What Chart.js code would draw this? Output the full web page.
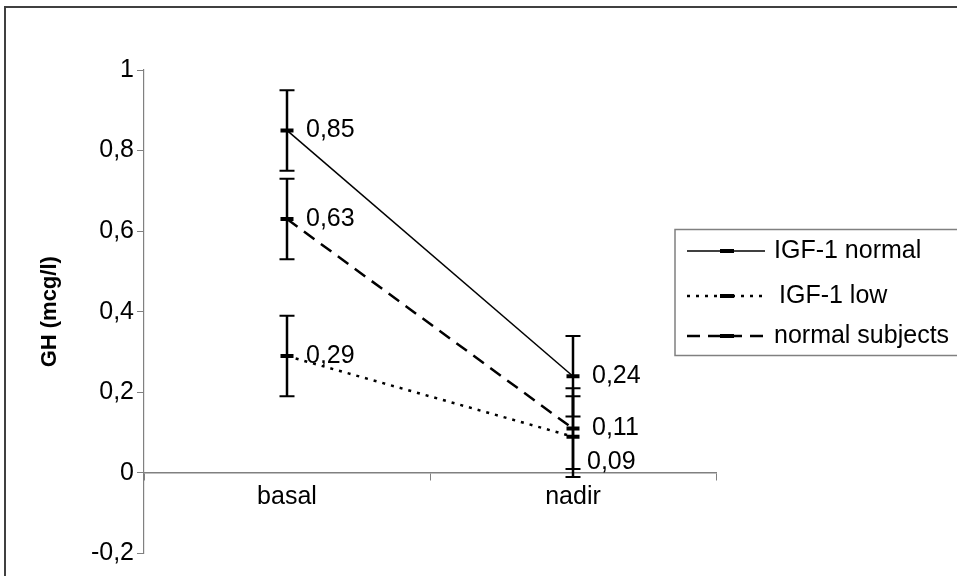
<!DOCTYPE html>
<html lang="en">

<head>
  <meta charset="UTF-8">
  <title>GH basal / nadir</title>
  <style>
    html, body { margin: 0; padding: 0; background: #fff; overflow: hidden; }
  </style>
</head>

<body>
  <canvas id="myChart" width="957" height="576"></canvas>

  <script src="https://cdn.jsdelivr.net/npm/chart.js"></script>

  <script>
    const categories = ['basal', 'nadir'];
    const igfNormal = [0.85, 0.24];
    const igfLow = [0.29, 0.09];
    const normalSubjects = [0.63, 0.11];
    const errNormal = [0.1, 0.1];
    const errLow = [0.1, 0.1];
    const errSubjects = [0.1, 0.1];
    const yTicks = [-0.2, 0, 0.2, 0.4, 0.6, 0.8, 1];

    const FONT = "'Liberation Sans', Arial, sans-serif";
    const TEXT_SIZE = 25;
    const comma = v => String(v).replace('.', ',');

    Chart.defaults.font.family = FONT;
    Chart.defaults.font.size = TEXT_SIZE;
    Chart.defaults.color = '#000';

    // outer frame of the exported picture
    const frame = {
      id: 'frame',
      beforeDraw(chart) {
        const ctx = chart.ctx;
        ctx.save();
        ctx.strokeStyle = '#404040';
        ctx.lineWidth = 2;
        ctx.beginPath();
        ctx.moveTo(5, 600);
        ctx.lineTo(5, 7);
        ctx.lineTo(chart.width + 5, 7);
        ctx.stroke();
        ctx.restore();
      }
    };

    const errorBars = {
      id: 'errorBars',
      afterDatasetsDraw(chart) {
        const ctx = chart.ctx;
        const y = chart.scales.y;
        ctx.save();
        ctx.strokeStyle = '#000';
        chart.data.datasets.forEach((ds, i) => {
          chart.getDatasetMeta(i).data.forEach((pt, j) => {
            const top = y.getPixelForValue(ds.data[j] + ds.errors[j]);
            const bot = y.getPixelForValue(ds.data[j] - ds.errors[j]);
            ctx.lineWidth = 2.5;
            ctx.beginPath();
            ctx.moveTo(pt.x, top); ctx.lineTo(pt.x, bot);
            ctx.stroke();
            ctx.lineWidth = 2;
            ctx.beginPath();
            ctx.moveTo(pt.x - 7.5, top); ctx.lineTo(pt.x + 7.5, top);
            ctx.moveTo(pt.x - 7.5, bot); ctx.lineTo(pt.x + 7.5, bot);
            ctx.stroke();
          });
        });
        ctx.restore();
      }
    };

    const valueLabels = {
      id: 'valueLabels',
      afterDatasetsDraw(chart, args, opts) {
        const ctx = chart.ctx;
        ctx.save();
        ctx.font = TEXT_SIZE + 'px ' + FONT;
        ctx.fillStyle = '#000';
        ctx.textAlign = 'left';
        ctx.textBaseline = 'middle';
        chart.data.datasets.forEach((ds, i) => {
          const shift = opts.shift[ds.label] || [];
          chart.getDatasetMeta(i).data.forEach((pt, j) => {
            const s = shift[j] || [0, 0];
            ctx.fillText(comma(ds.data[j]), pt.x + 19 + s[0], pt.y + s[1]);
          });
        });
        ctx.restore();
      }
    };

    const legendBox = {
      id: 'legendBox',
      afterDraw(chart) {
        const ctx = chart.ctx;
        const rows = [251, 296, 336];
        ctx.save();
        ctx.strokeStyle = '#808080';
        ctx.lineWidth = 1.5;
        ctx.strokeRect(675, 229.5, 320, 126);
        ctx.font = TEXT_SIZE + 'px ' + FONT;
        ctx.fillStyle = '#000';
        ctx.textAlign = 'left';
        ctx.textBaseline = 'middle';
        chart.data.datasets.forEach((ds, i) => {
          const y = rows[i];
          ctx.strokeStyle = '#000';
          ctx.lineWidth = ds.borderWidth;
          ctx.setLineDash(ds.borderDash || []);
          ctx.beginPath();
          ctx.moveTo(687, y); ctx.lineTo(765, y);
          ctx.stroke();
          ctx.setLineDash([]);
          ctx.lineWidth = 4;
          ctx.beginPath();
          ctx.moveTo(720, y); ctx.lineTo(734, y);
          ctx.stroke();
          ctx.fillText(ds.label, i === 1 ? 779 : 774, y);
        });
        ctx.restore();
      }
    };

    const lineDefaults = {
      borderColor: '#000',
      backgroundColor: '#000',
      fill: false,
      tension: 0,
      pointStyle: 'line',
      pointRadius: 6.5,
      pointBorderWidth: 4,
      pointBorderColor: '#000'
    };

    const ctx = document.getElementById('myChart').getContext('2d');
    new Chart(ctx, {
      type: 'line',
      data: {
        labels: categories,
        datasets: [
          Object.assign({ label: 'IGF-1 normal', data: igfNormal, errors: errNormal, borderWidth: 1.5 }, lineDefaults),
          Object.assign({ label: 'IGF-1 low', data: igfLow, errors: errLow, borderWidth: 2.5, borderDash: [3, 6] }, lineDefaults),
          Object.assign({ label: 'normal subjects', data: normalSubjects, errors: errSubjects, borderWidth: 2.5, borderDash: [13, 8] }, lineDefaults)
        ]
      },
      options: {
        responsive: false,
        animation: false,
        devicePixelRatio: 1,
        layout: { padding: { top: 70, bottom: 22.5, left: 0, right: 241 } },
        scales: {
          x: {
            position: { y: 0 },
            offset: true,
            afterFit: s => { s.height = 0; },
            grid: { offset: true, drawOnChartArea: false, tickLength: 7, color: '#808080' },
            border: { display: true, color: '#808080', width: 1.5 },
            ticks: { padding: 2, color: '#000' }
          },
          y: {
            min: -0.2,
            max: 1,
            afterBuildTicks: s => { s.ticks = yTicks.map(v => ({ value: v })); },
            afterFit: s => { s.width = 144; },
            grid: { drawOnChartArea: false, tickLength: 7, color: '#808080' },
            border: { display: true, color: '#808080', width: 1.2 },
            ticks: { padding: 3, color: '#000', callback: v => comma(v) },
            title: { display: true, text: 'GH (mcg/l)', font: { size: 22, weight: 'bold' }, padding: { top: 37, bottom: 0 } }
          }
        },
        plugins: {
          legend: { display: false },
          tooltip: { enabled: false },
          valueLabels: { shift: { 'IGF-1 low': [[0, 0], [-5, 25]] } }
        }
      },
      plugins: [frame, errorBars, valueLabels, legendBox]
    });
  </script>
</body>

</html>
